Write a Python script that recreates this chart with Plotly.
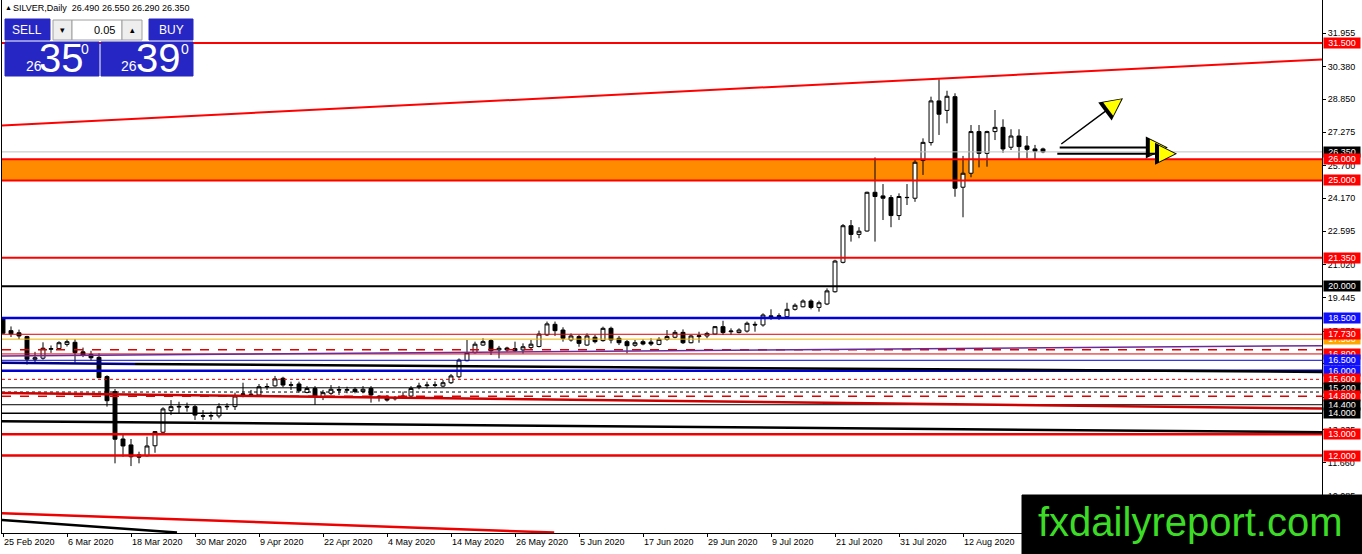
import pandas as pd
import plotly.graph_objects as go

# daily bars as the broker shows them (no bar for Good Friday)
days = pd.bdate_range("2020-02-25", "2020-08-26").drop(pd.Timestamp("2020-04-10"))

opens = [18.49, 17.90, 17.80, 17.62, 16.55, 16.60, 17.02, 17.05, 17.25, 17.35,
         16.90, 16.78, 16.64, 15.73, 15.02, 12.78, 12.50, 12.03, 11.99, 12.46,
         13.10, 14.12, 14.29, 14.32, 14.31, 13.88, 13.86, 13.87, 14.30, 14.31,
         14.88, 14.90, 14.86, 15.24, 15.29, 15.65, 15.32, 15.38, 14.98, 15.17,
         14.78, 14.94, 15.12, 15.08, 15.13, 15.02, 15.17, 14.80, 14.75, 14.68,
         14.74, 14.81, 15.24, 15.30, 15.34, 15.28, 15.44, 15.72, 16.48, 16.86,
         17.22, 17.43, 16.99, 17.08, 17.05, 16.99, 17.10, 17.15, 17.70, 18.20,
         17.93, 17.46, 17.62, 17.22, 17.59, 17.43, 18.01, 17.54, 17.38, 17.21,
         17.38, 17.36, 17.25, 17.49, 17.59, 17.82, 17.33, 17.62, 17.65, 17.74,
         18.09, 17.85, 17.81, 17.88, 18.20, 18.17, 18.60, 18.56, 18.56, 18.91,
         19.03, 19.30, 19.00, 19.16, 19.74, 21.13, 22.86, 22.45, 22.61, 24.44,
         24.27, 24.19, 23.34, 24.20, 24.16, 25.94, 26.79, 28.76, 28.31, 28.96,
         24.68, 25.34, 27.31, 26.28, 27.31, 27.51, 26.57, 27.10, 26.63, 26.49,
         26.49]
highs = [18.52, 18.10, 17.95, 17.66, 16.90, 17.35, 17.20, 17.40, 17.50, 17.50,
         17.10, 16.95, 16.83, 15.79, 15.14, 12.97, 12.78, 12.18, 12.89, 13.15,
         14.28, 14.62, 14.54, 14.50, 14.39, 14.15, 14.07, 14.47, 14.47, 14.97,
         15.44, 15.10, 15.38, 15.41, 15.76, 15.72, 15.49, 15.49, 15.28, 15.28,
         15.10, 15.33, 15.28, 15.25, 15.22, 15.28, 15.28, 14.86, 14.86, 14.81,
         15.02, 15.28, 15.44, 15.49, 15.50, 15.57, 15.85, 16.59, 17.46, 17.38,
         17.54, 17.50, 17.18, 17.14, 17.38, 17.30, 17.46, 17.90, 18.33, 18.33,
         18.06, 17.77, 17.70, 17.77, 17.70, 18.09, 18.09, 17.65, 17.46, 17.46,
         17.49, 17.54, 17.59, 17.93, 17.93, 17.96, 17.70, 17.85, 17.85, 18.12,
         18.37, 18.01, 18.01, 18.33, 18.33, 18.72, 18.91, 18.72, 19.22, 19.19,
         19.38, 19.38, 19.32, 19.90, 21.25, 22.94, 23.13, 22.79, 24.47, 26.09,
         24.83, 24.31, 24.39, 24.83, 25.97, 26.99, 28.96, 29.78, 29.24, 29.12,
         26.16, 27.62, 27.62, 27.35, 28.33, 27.89, 27.42, 27.42, 27.10, 26.68,
         26.55]
lows = [17.75, 17.60, 17.50, 16.30, 16.36, 16.53, 16.85, 17.00, 17.15, 16.39,
        16.65, 16.50, 15.65, 14.31, 11.63, 11.94, 11.50, 11.63, 11.95, 12.13,
        13.02, 13.91, 13.99, 14.07, 13.68, 13.68, 13.68, 13.76, 14.15, 14.15,
        14.75, 14.78, 14.81, 15.10, 15.25, 15.22, 15.10, 14.97, 14.94, 14.39,
        14.62, 14.86, 14.86, 14.94, 14.94, 14.94, 14.50, 14.55, 14.55, 14.60,
        14.70, 14.75, 15.13, 15.17, 15.22, 15.22, 15.38, 15.65, 16.45, 16.82,
        17.18, 16.75, 16.59, 16.90, 16.90, 16.82, 17.02, 17.11, 17.65, 17.65,
        17.38, 17.38, 17.14, 17.18, 17.30, 17.38, 17.30, 17.22, 16.83, 17.14,
        17.21, 17.18, 17.21, 17.43, 17.54, 17.27, 17.30, 17.33, 17.54, 17.70,
        17.70, 17.70, 17.77, 17.81, 17.85, 18.09, 18.41, 18.41, 18.53, 18.85,
        19.00, 18.91, 18.80, 19.11, 19.70, 21.08, 22.11, 22.27, 22.58, 22.11,
        23.13, 22.79, 23.13, 23.84, 23.99, 25.26, 26.65, 27.15, 27.70, 24.23,
        23.26, 25.15, 25.62, 25.65, 26.91, 26.31, 26.44, 26.00, 26.05, 26.00,
        26.29]
closes = [17.78, 17.75, 17.65, 16.55, 16.62, 17.07, 17.05, 17.33, 17.38, 16.86,
          16.75, 16.62, 15.68, 14.59, 12.77, 12.45, 11.94, 11.92, 12.45, 13.13,
          14.20, 14.31, 14.32, 14.29, 13.91, 13.86, 13.89, 14.31, 14.32, 14.81,
          14.91, 14.88, 15.25, 15.26, 15.62, 15.33, 15.34, 15.06, 15.17, 14.81,
          14.97, 15.13, 15.09, 15.12, 15.02, 15.13, 14.86, 14.76, 14.62, 14.70,
          14.81, 15.17, 15.28, 15.33, 15.32, 15.44, 15.76, 16.51, 16.86, 17.26,
          17.38, 16.95, 17.07, 16.99, 16.95, 17.14, 17.26, 17.74, 18.22, 17.90,
          17.54, 17.65, 17.30, 17.65, 17.38, 18.01, 17.46, 17.33, 17.19, 17.33,
          17.27, 17.27, 17.49, 17.62, 17.82, 17.33, 17.65, 17.66, 17.77, 18.09,
          17.81, 17.88, 17.93, 18.25, 18.17, 18.64, 18.56, 18.60, 18.91, 19.10,
          19.30, 19.00, 19.22, 19.78, 21.19, 22.86, 22.45, 22.60, 24.44, 24.24,
          24.16, 23.34, 24.24, 24.19, 25.86, 26.80, 28.76, 28.13, 28.98, 24.63,
          25.34, 27.31, 26.28, 27.31, 27.51, 26.49, 27.10, 26.60, 26.47, 26.38,
          26.35]

label_days = ["2020-02-25", "2020-03-06", "2020-03-18", "2020-03-30", "2020-04-09",
              "2020-04-22", "2020-05-04", "2020-05-14", "2020-05-26", "2020-06-05",
              "2020-06-17", "2020-06-29", "2020-07-09", "2020-07-21", "2020-07-31",
              "2020-08-12"]

y_ticks = [31.955, 30.380, 28.850, 27.275, 25.700, 24.170, 22.595, 21.020,
           19.445, 17.870, 16.340, 14.765, 13.235, 11.660, 10.085]

# horizontal levels: price, colour, width, dash
levels = [
    (31.50, "#ff0000", 2, "solid"), (26.35, "#c0c0c0", 1, "solid"),
    (26.00, "#ff0000", 2, "solid"), (25.00, "#ff0000", 2, "solid"),
    (21.35, "#ff0000", 2, "solid"), (20.00, "#000000", 2, "solid"),
    (18.50, "#0000e0", 2.5, "solid"), (17.73, "#e00000", 1, "solid"),
    (17.50, "#f0b000", 1, "solid"), (17.00, "#e00000", 1.5, "dash"),
    (16.80, "#e00000", 1, "solid"), (16.50, "#0000e0", 1, "solid"),
    (16.00, "#0000d0", 2.5, "solid"), (15.60, "#e00000", 1, "dot"),
    (15.20, "#000000", 1, "solid"), (15.00, "#000000", 1, "dot"),
    (14.80, "#e00000", 1.5, "dash"), (14.40, "#000000", 1, "solid"),
    (14.00, "#000000", 1.5, "solid"), (13.00, "#ee0000", 2.5, "solid"),
    (12.00, "#ee0000", 2.5, "solid"),
]

# trend lines: (bar0, price0, bar1, price1, colour, width)
trends = [
    (-0.125, 27.60, 164.875, 30.72, "#ff0000", 2),
    (-0.125, 16.70, 164.875, 17.19, "#6a2a9a", 1.5),
    (-0.125, 16.38, 16.5, 16.33, "#000080", 2.5),
    (16.5, 16.33, 164.875, 15.95, "#000000", 2.5),
    (-0.125, 14.95, 164.875, 14.22, "#cc0000", 2.5),
    (-0.125, 13.62, 164.875, 13.10, "#000000", 2.5),
    (-0.125, 9.27, 68.9, 8.36, "#ee0000", 2.5),
    (-0.125, 8.95, 21.75, 8.36, "#000000", 2.5),
]

# price tags on the right scale (drawn in this order)
tags = [
    (31.50, "31.500", "#ff0000"), (26.35, "26.350", "#000000"),
    (26.00, "26.000", "#ff0000"), (25.00, "25.000", "#ff0000"),
    (21.35, "21.350", "#ff0000"), (20.00, "20.000", "#000000"),
    (18.50, "18.500", "#1010ff"), (17.50, "17.500", "#ffa500"),
    (17.73, "17.730", "#ff0000"), (16.80, "16.800", "#ff0000"),
    (16.50, "16.500", "#1010ff"), (16.00, "16.000", "#1010ff"),
    (15.60, "15.600", "#ff0000"), (15.20, "15.200", "#000000"),
    (14.80, "14.800", "#ff0000"), (14.40, "14.400", "#000000"),
    (14.00, "14.000", "#000000"), (13.00, "13.000", "#ff0000"),
    (12.00, "12.000", "#ff0000"),
]

bars = list(range(len(days)))
day_pos = {d.strftime("%Y-%m-%d"): i for i, d in enumerate(days)}
tick_vals = [day_pos[d] for d in label_days]
tick_text = [f"{pd.Timestamp(d).day} {pd.Timestamp(d):%b %Y}" for d in label_days]

W, H = 1362, 554
ML, MR, MT, MB = 2, 40, 0, 21
PW, PH = W - ML - MR, H - MT - MB


def px(x):
    return (x - ML) / PW


def py(y):
    return (MT + PH - y) / PH


FONT = "Liberation Sans"
NARROW = "Liberation Sans Narrow, Liberation Sans"
BLUE = "#2626c4"

fig = go.Figure()
fig.add_trace(go.Candlestick(
    x=bars, open=opens, high=highs, low=lows, close=closes,
    increasing=dict(line=dict(color="black", width=1), fillcolor="white"),
    decreasing=dict(line=dict(color="black", width=1), fillcolor="black"),
    whiskerwidth=0, hoverinfo="skip",
))

shapes = [dict(type="rect", xref="paper", yref="y", x0=0, x1=1, y0=25.0, y1=26.0,
               fillcolor="#ff8c00", line=dict(width=0), layer="below")]
for price, col, w, dash in levels:
    shapes.append(dict(type="line", xref="paper", yref="y", x0=0, x1=1, y0=price, y1=price,
                       line=dict(color=col, width=w, dash=dash), layer="above"))
for b0, p0, b1, p1, col, w in trends:
    shapes.append(dict(type="line", xref="x", yref="y", x0=b0, x1=b1, y0=p0, y1=p1,
                       line=dict(color=col, width=w), layer="above"))


def box(x0, y0, x1, y1, fill, line=None):
    shapes.append(dict(type="rect", xref="paper", yref="paper",
                       x0=px(x0), x1=px(x1), y0=py(y1), y1=py(y0), fillcolor=fill,
                       line=dict(color=line or fill, width=1), layer="above"))


# one-click trading panel
box(5, 19, 50, 40, BLUE)
box(53, 20, 72, 40, "#eeeeee", "#a0a0a0")
box(72, 20, 122, 40, "white", "#a0a0a0")
box(122, 20, 142, 40, "#eeeeee", "#a0a0a0")
box(149, 19, 193, 40, BLUE)
box(5, 42, 99, 76, BLUE)
box(101, 42, 193, 76, BLUE)
# watermark block
box(1022, 495, 1366, 558, "black")

annotations = []


def text(x, y, s, size, color="black", family=FONT, anchor="left"):
    annotations.append(dict(xref="paper", yref="paper", x=px(x), y=py(y), text=s,
                            showarrow=False, xanchor=anchor, yanchor="middle",
                            font=dict(family=family, size=size, color=color)))


text(3, 8, "▲", 7)
text(11, 8, "SILVER,Daily&nbsp;&nbsp;26.490 26.550 26.290 26.350", 9)
text(27, 30, "SELL", 12, "white", anchor="center")
text(171, 30, "BUY", 12, "white", anchor="center")
text(62, 30, "▾", 9, anchor="center")
text(117, 30, "0.05", 11, anchor="right")
text(132, 30, "▴", 9, anchor="center")
text(34, 66, "26", 14, "white", anchor="center")
text(61, 58, "35", 40, "white", NARROW, "center")
text(85, 49, "0", 14, "white", anchor="center")
text(129, 66, "26", 14, "white", anchor="center")
text(158, 58, "39", 40, "white", NARROW, "center")
text(185, 49, "0", 14, "white", anchor="center")
text(1190, 522, "fxdailyreport.com", 40, "#3cdc26", FONT, "center")

for price, label, col in tags:
    annotations.append(dict(xref="paper", yref="y", x=1, y=price, xshift=1, text=label,
                            showarrow=False, xanchor="left", yanchor="middle",
                            width=36, height=10, borderpad=0, bgcolor=col,
                            font=dict(family=FONT, size=9, color="white")))

# arrows: black diagonal, two outlined yellow horizontals
annotations.append(dict(x=140.0, y=28.89, ax=132.1, ay=26.67, xref="x", yref="y",
                        axref="x", ayref="y", text="", showarrow=True, arrowhead=2,
                        arrowsize=3, arrowwidth=1.5, arrowcolor="black"))
annotations.append(dict(x=140.0, y=28.89, ax=138.3, ay=28.41, xref="x", yref="y",
                        axref="x", ayref="y", text="", showarrow=True, arrowhead=2,
                        arrowsize=2.2, arrowwidth=1.5, arrowcolor="#ffff00", standoff=2))
for tip, tail, price in [(145.6, 131.9, 26.56), (146.75, 131.6, 26.26)]:
    annotations.append(dict(x=tip, y=price, ax=tail, ay=price, xref="x", yref="y",
                            axref="x", ayref="y", text="", showarrow=True, arrowhead=2,
                            arrowsize=2.2, arrowwidth=2, arrowcolor="black"))
    annotations.append(dict(x=tip, y=price, ax=tip - 1.5, ay=price, xref="x", yref="y",
                            axref="x", ayref="y", text="", showarrow=True, arrowhead=2,
                            arrowsize=1.6, arrowwidth=2, arrowcolor="#ffff00", standoff=2))

fig.update_layout(
    width=W, height=H, margin=dict(l=ML, r=MR, t=MT, b=MB),
    paper_bgcolor="white", plot_bgcolor="white", showlegend=False, hovermode=False,
    shapes=shapes, annotations=annotations,
    font=dict(family=FONT, size=9, color="black"),
    xaxis=dict(range=[-0.125, 164.875], rangeslider=dict(visible=False),
               tickvals=tick_vals, ticktext=tick_text, ticks="outside", ticklen=3,
               tickcolor="black", ticklabelposition="outside right",
               showgrid=False, zeroline=False, showline=True, linecolor="black",
               linewidth=1, mirror=True, tickfont=dict(size=9)),
    yaxis=dict(range=[8.337, 33.529], side="right", tickvals=y_ticks,
               ticktext=[f"{v:.3f}" for v in y_ticks], ticks="outside", ticklen=3,
               tickcolor="black", showgrid=False, zeroline=False, showline=True,
               linecolor="black", linewidth=1, mirror=True, tickfont=dict(size=9)),
)

# the page's default body margin would push the chart 8px off the window
fig.write_html("out.html", config={"displayModeBar": False},
               post_script="document.body.style.margin='0';")
